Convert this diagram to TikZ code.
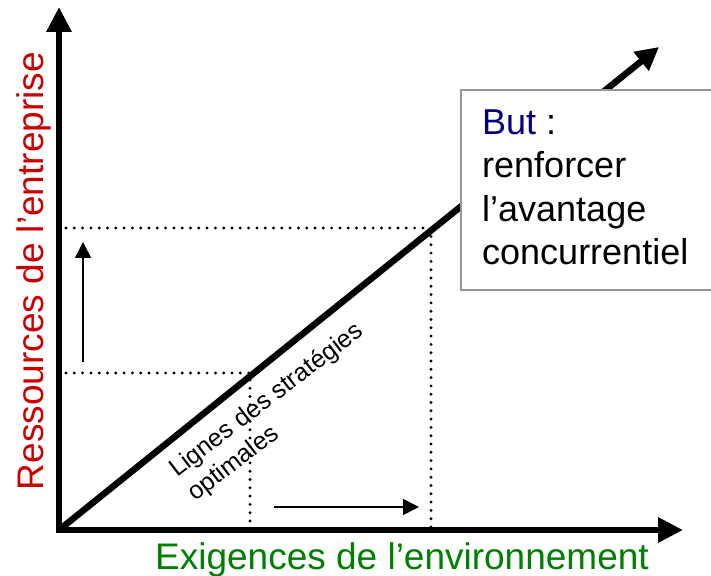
\documentclass[tikz,border=0pt]{standalone}
\usepackage{fontspec}
\setmainfont{Liberation Sans}
\usetikzlibrary{arrows.meta,calc}
\definecolor{labred}{RGB}{204,0,0}
\definecolor{labgreen}{RGB}{0,128,0}
\definecolor{labnavy}{RGB}{0,0,128}
\definecolor{boxgray}{RGB}{150,150,150}
\tikzset{
  axisline/.style={line width=6.5pt, line join=miter},
  bighead/.tip={Triangle[length=25pt,width=24pt]},
  diaghead/.tip={Triangle[length=23pt,width=23pt]},
  smallhead/.tip={Triangle[length=16pt,width=16pt]},
  thinarrow/.style={line width=1.5pt, -smallhead},
  dotline/.style={line width=3.2pt, line cap=round, dash pattern=on 0pt off 8.3pt},
  biglabel/.style={font=\fontsize{37}{44}\selectfont, inner sep=0pt},
  boxtext/.style={font=\fontsize{36}{43.5}\selectfont, inner sep=0pt, align=left},
  smalltext/.style={font=\fontsize{25}{29}\selectfont, inner sep=0pt, rotate=37.5}
}
\begin{document}
\begin{tikzpicture}[x=1pt,y=1pt]
\useasboundingbox (0,0) rectangle (711,575);
% key points
\coordinate (O) at (59,45);
\coordinate (ytop) at (59,568);
\coordinate (xend) at (683,45);
\coordinate (dend) at (659,528);
% dotted guide lines
\coordinate (l1) at (66,202);
\coordinate (p1) at (250,202);
\coordinate (p1b) at (250,48);
\coordinate (l2) at (66,347);
\coordinate (p2) at (431,347);
\coordinate (p2b) at (431,48);
\draw[dotline] (l1) -- (p1) -- (p1b);
\draw[dotline] (l2) -- (p2) -- (p2b);
% small arrows
\coordinate (ua) at (83,213);
\coordinate (ub) at (83,333);
\coordinate (ra) at (274,68);
\coordinate (rb) at (419,68);
\draw[thinarrow] (ua) -- (ub);
\draw[thinarrow] (ra) -- (rb);
% axes
\draw[axisline, bighead-bighead] (ytop) -- (O) -- (xend);
% diagonal
\draw[axisline, -diaghead] (O) -- (dend);
% box
\node[draw=boxgray, line width=1.8pt, fill=white, minimum width=255pt, minimum height=200pt, anchor=north west, inner sep=0pt] (box) at (460,486) {};
\node[boxtext, anchor=base west] (but) at ($(box.north west)+(22,-176)$) {{\color{labnavy}But} :\\renforcer\\l’avantage\\concurrentiel};
% axis labels
\node[biglabel, text=labgreen, anchor=base] (xlab) at (402,6) {Exigences de l’environnement};
\node[biglabel, text=labred, anchor=base, rotate=90] (ylab) at (43,304) {Ressources de l’entreprise};
% diagonal label
\node[smalltext, anchor=base west] (lig1) at (177,97) {Lignes des stratégies};
\node[smalltext, anchor=base west] (lig2) at ($(lig1.base west)+(-52.5:30pt)$) {optimales};
\end{tikzpicture}
\end{document}
